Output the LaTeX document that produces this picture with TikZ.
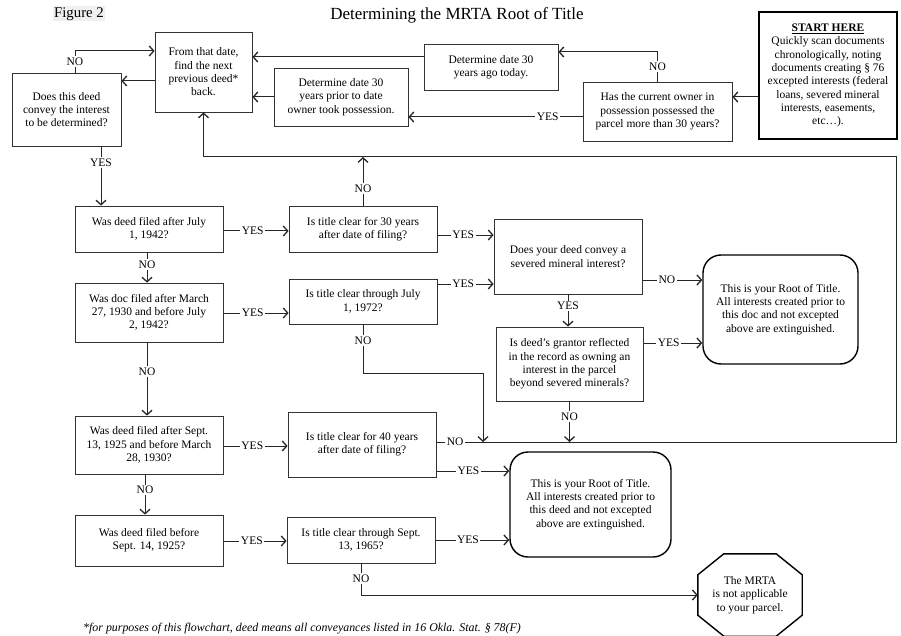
\documentclass[tikz,border=0pt]{standalone}
\usepackage{fontspec}
\setmainfont{Liberation Serif}
\usetikzlibrary{arrows.meta}
\begin{document}
\begin{tikzpicture}[x=1pt,y=-1pt,
  txt/.style={font=\fontsize{11.5}{13.3}\selectfont, align=center},
  box/.style={txt, draw=black!80, line width=0.8pt, inner sep=0pt},
  rbox/.style={box, rounded corners=18pt, line width=1.4pt, draw=black},
  lbl/.style={txt, fill=white, inner sep=1.5pt},
  conn/.style={draw=black!85, line width=1pt},
  arr/.style={conn, -{Straight Barb[length=4.5pt,width=10pt,line width=1.3pt]}},
]
\useasboundingbox (0,0) rectangle (901,636);

% titles
\node[fill=gray!12, inner sep=1pt, font=\fontsize{14.8}{16}\selectfont] (fig) at (79,14) {Figure 2};
\node[font=\fontsize{17}{19}\selectfont] (title) at (457,15) {Determining the MRTA Root of Title};

% top row
\node[box, minimum width=97pt, minimum height=80pt] (from) at (203.5,72) {From that date,\\find the next\\previous deed*\\back.};
\node[box, minimum width=109pt, minimum height=73pt] (does) at (66.5,109.5) {Does this deed\\convey the interest\\to be determined?};
\node[box, minimum width=134pt, minimum height=58pt] (prior) at (341,97) {Determine date 30\\years prior to date\\owner took possession.};
\node[box, minimum width=134pt, minimum height=46pt] (ago) at (491,67) {Determine date 30\\years ago today.};
\node[box, minimum width=149pt, minimum height=59pt] (owner) at (657.5,111.5) {Has the current owner in\\possession possessed the\\parcel more than 30 years?};
\node[box, draw=black, line width=1.8pt, minimum width=138pt, minimum height=127pt] (start) at (828,75.5) {\underline{\textbf{START HERE}}\\Quickly scan documents\\chronologically, noting\\documents creating § 76\\excepted interests (federal\\loans, severed mineral\\interests, easements,\\etc…).};

% rows
\node[box, minimum width=148pt, minimum height=46pt] (r1a) at (149,229) {Was deed filed after July\\1, 1942?};
\node[box, minimum width=148pt, minimum height=46pt] (r1b) at (363,229) {Is title clear for 30 years\\after date of filing?};
\node[box, minimum width=148pt, minimum height=75pt] (sev) at (568,256.5) {Does your deed convey a\\severed mineral interest?};
\node[box, minimum width=148pt, minimum height=59pt] (r2a) at (149,312.5) {Was doc filed after March\\27, 1930 and before July\\2, 1942?};
\node[box, minimum width=148pt, minimum height=45pt] (r2b) at (363,301.5) {Is title clear through July\\1, 1972?};
\node[box, minimum width=147pt, minimum height=74pt] (grant) at (569.5,364) {Is deed’s grantor reflected\\in the record as owning an\\interest in the parcel\\beyond severed minerals?};
\node[rbox, minimum width=155pt, minimum height=109pt] (root1) at (780.5,309.5) {This is your Root of Title.\\All interests created prior to\\this doc and not excepted\\above are extinguished.};
\node[box, minimum width=148pt, minimum height=58pt] (r3a) at (149,445) {Was deed filed after Sept.\\13, 1925 and before March\\28, 1930?};
\node[box, minimum width=148pt, minimum height=65pt] (r3b) at (362,444.5) {Is title clear for 40 years\\after date of filing?};
\node[rbox, minimum width=161pt, minimum height=105pt] (root2) at (590.5,504.5) {This is your Root of Title.\\All interests created prior to\\this deed and not excepted\\above are extinguished.};
\node[box, minimum width=148pt, minimum height=51pt] (r4a) at (149,540.5) {Was deed filed before\\Sept. 14, 1925?};
\node[box, minimum width=148pt, minimum height=46pt] (r4b) at (361,540) {Is title clear through Sept.\\13, 1965?};
\node[txt, minimum width=104pt, minimum height=82pt, inner sep=0pt] (oct) at (750,595) {The MRTA\\is not applicable\\to your parcel.};
\draw[line width=1.4pt] ([xshift=26pt]oct.north west) -- ([xshift=-26pt]oct.north east) -- ([yshift=-21pt]oct.north east) -- ([yshift=21pt]oct.south east) -- ([xshift=-26pt]oct.south east) -- ([xshift=26pt]oct.south west) -- ([yshift=21pt]oct.south west) -- ([yshift=-21pt]oct.north west) -- cycle;

% footnote
\node[anchor=west, font=\fontsize{11.9}{13}\selectfont\itshape, inner sep=0pt] (foot) at (83,629) {*for purposes of this flowchart, deed means all conveyances listed in 16 Okla. Stat. § 78(F)};

% loop coordinates
\coordinate (lr) at (896,442);
\coordinate (lt) at (896,157);
\coordinate (j1) at (483,442);

% top connectors
\draw[arr] (start.west |- 0,97) -- (owner.east |- 0,97);
\draw[arr] (owner.west |- 0,117) -- node[lbl, pos=0.2] {YES} (prior.east |- 0,117);
\draw[arr] (owner.north) -- node[lbl] {NO} (owner.north |- 0,52) -- (ago.east |- 0,52);
\draw[arr] (ago.west |- 0,57) -- (from.east |- 0,57);
\draw[arr] (prior.west |- 0,97) -- (from.east |- 0,97);
\draw[arr] (from.west |- 0,81) -- (does.east |- 0,81);
\draw[arr] (does.north -| 75,0) |- node[lbl, pos=0.25] {NO} (from.west |- 0,51);
\draw[arr] (does.south -| 101,0) -- node[lbl, pos=0.27] {YES} (r1a.north -| 101,0);

% row 1
\draw[arr] (r1a.east |- 0,231) -- node[lbl, pos=0.45] {YES} (r1b.west |- 0,231);
\draw[arr] (r1b.north) -- node[lbl, pos=0.35] {NO} (r1b.north |- lt);
\draw[arr] (r1b.east |- 0,235) -- node[lbl, pos=0.46] {YES} (sev.west |- 0,235);
\draw[arr] (r1a.south -| 147,0) -- node[lbl, pos=0.4] {NO} (r2a.north -| 147,0);

% row 2
\draw[arr] (r2a.east |- 0,313) -- node[lbl, pos=0.45] {YES} (r2b.west |- 0,313);
\draw[arr] (r2b.east |- 0,284) -- node[lbl, pos=0.46] {YES} (sev.west |- 0,284);
\draw[arr] (r2b.south) -- node[lbl, pos=0.33] {NO} (r2b.south |- 0,373) -| (j1);
\draw[arr] (sev.south) -- node[lbl, pos=0.36] {YES} (sev.south |- grant.north);
\draw[arr] (sev.east |- 0,280) -- node[lbl, pos=0.41] {NO} (root1.west |- 0,280);
\draw[arr] (grant.east |- 0,343) -- node[lbl, pos=0.43] {YES} (root1.west |- 0,343);
\draw[arr] (grant.south) -- node[lbl, pos=0.37] {NO} (grant.south |- lr);
\draw[arr] (r2a.south -| 147,0) -- node[lbl, pos=0.4] {NO} (r3a.north -| 147,0);

% row 3
\draw[arr] (r3a.east |- 0,446) -- node[lbl, pos=0.45] {YES} (r3b.west |- 0,446);
\draw[arr] (r3b.east |- lr) -- node[lbl, pos=0.041] {NO} (lr) -- (lt) -- (lt -| from.south) -- (from.south);
\draw[arr] (r3b.east |- 0,471) -- node[lbl, pos=0.44] {YES} (root2.west |- 0,471);
\draw[arr] (r3a.south -| 145,0) -- node[lbl, pos=0.39] {NO} (r4a.north -| 145,0);

% row 4
\draw[arr] (r4a.east |- 0,541) -- node[lbl, pos=0.45] {YES} (r4b.west |- 0,541);
\draw[arr] (r4b.east |- 0,540) -- node[lbl, pos=0.44] {YES} (root2.west |- 0,540);
\draw[arr] (r4b.south) |- node[lbl, pos=0.24] {NO} (oct.west);
\end{tikzpicture}
\end{document}
